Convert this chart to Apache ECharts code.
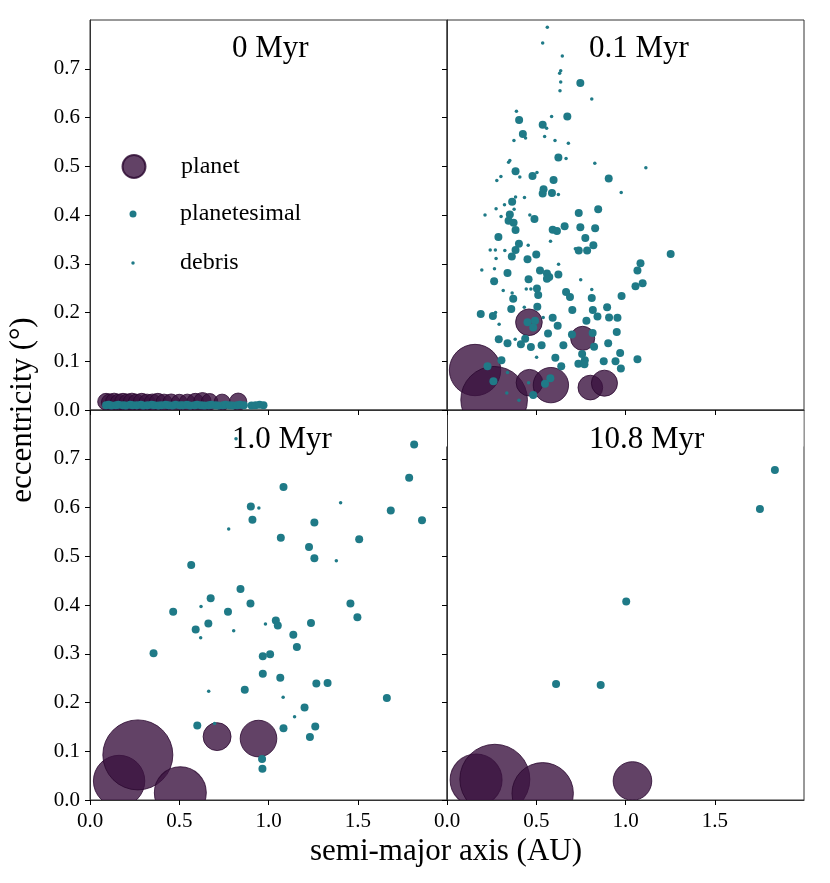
<!DOCTYPE html>
<html>
<head>
<meta charset="utf-8">
<script src="https://cdn.jsdelivr.net/npm/echarts@6/dist/echarts.min.js"></script>
<style>
html,body{margin:0;padding:0;background:#fff;}
#chart{width:830px;height:883px;}
</style>
</head>
<body>
<div id="chart"></div>
<script>
// ---------- DATA ----------
const panelTitles = ['0 Myr', '0.1 Myr', '1.0 Myr', '10.8 Myr'];
const xTickValues = [0, 0.5, 1.0, 1.5];
const yTickValues = [0, 0.1, 0.2, 0.3, 0.4, 0.5, 0.6, 0.7];

// 0 Myr
const planetA_0 = [0.09,0.11,0.135,0.16,0.185,0.21,0.235,0.26,0.29,0.32,0.35,0.38,0.415,0.455,0.50,0.545,0.59,0.63,0.67,0.74,0.83];
const planetE_0 = [0.017,0.016,0.017,0.016,0.017,0.016,0.017,0.016,0.017,0.016,0.016,0.017,0.016,0.016,0.016,0.016,0.017,0.018,0.017,0.016,0.017];
const planetM_0 = [2.8,2.7,2.9,2.6,2.8,2.7,2.9,2.6,2.8,2.6,2.7,2.8,2.6,2.7,2.5,2.6,2.8,3.0,2.7,2.6,3.0];
const planetesimals_0 = [[0.09,0.010],[0.105,0.011],[0.12,0.009],[0.145,0.010],[0.16,0.011],[0.185,0.010],[0.2,0.009],[0.225,0.011],[0.24,0.010],[0.262,0.010],[0.285,0.011],[0.3,0.009],[0.322,0.010],[0.345,0.011],[0.36,0.010],[0.383,0.009],[0.4,0.010],[0.424,0.011],[0.44,0.010],[0.462,0.009],[0.48,0.011],[0.505,0.010],[0.52,0.010],[0.543,0.011],[0.56,0.009],[0.585,0.010],[0.6,0.011],[0.622,0.010],[0.64,0.009],[0.664,0.010],[0.68,0.011],[0.703,0.010],[0.72,0.009],[0.745,0.010],[0.76,0.011],[0.782,0.010],[0.8,0.009],[0.823,0.010],[0.84,0.011],[0.862,0.010],[0.905,0.009],[0.928,0.010],[0.95,0.011],[0.972,0.010]];
const debris_0 = [];

// 0.1 Myr
const planetA_01 = [0.157,0.264,0.459,0.462,0.582,0.760,0.803,0.882];
const planetE_01 = [0.082,0.021,0.180,0.056,0.051,0.147,0.046,0.055];
const planetM_01 = [26.4,44.4,7.1,7.1,12.5,5.8,6.1,6.8];
const planetesimals_01 = [[0.747,0.671],[0.404,0.595],[0.674,0.602],[0.536,0.585],[0.425,0.566],[0.624,0.518],[0.384,0.490],[0.479,0.480],[0.597,0.472],[0.906,0.475],[0.541,0.453],[0.536,0.444],[0.588,0.445],[0.365,0.427],[0.847,0.412],
[0.352,0.401],[0.345,0.388],[0.373,0.384],[0.490,0.392],[0.738,0.404],
[0.384,0.369],[0.592,0.370],[0.616,0.367],[0.659,0.377],[0.747,0.375],[0.830,0.373],
[0.288,0.355],[0.403,0.341],[0.384,0.328],[0.775,0.353],[0.820,0.338],[0.738,0.327],[0.785,0.327],
[0.500,0.319],[0.363,0.315],[0.451,0.309],[1.253,0.320],[1.084,0.301],[1.067,0.286],[1.096,0.260],[1.056,0.254],[0.978,0.234],
[0.521,0.286],[0.560,0.280],[0.573,0.273],[0.560,0.269],[0.624,0.278],[0.339,0.281],[0.264,0.264],[0.457,0.268],
[0.504,0.249],[0.511,0.236],[0.667,0.242],[0.689,0.232],[0.371,0.228],[0.811,0.230],
[0.506,0.212],[0.360,0.207],[0.702,0.205],[0.817,0.205],[0.897,0.211],
[0.189,0.197],[0.257,0.193],[0.592,0.189],[0.843,0.192],[0.908,0.190],[0.955,0.189],[0.781,0.183],[0.620,0.173],
[0.451,0.180],[0.493,0.183],[0.483,0.169],
[0.951,0.160],[0.566,0.157],[0.700,0.155],[0.816,0.158],
[0.438,0.146],[0.290,0.145],[0.339,0.137],[0.414,0.135],[0.530,0.133],[0.470,0.129],[0.652,0.133],[0.903,0.137],[0.824,0.130],
[0.970,0.117],[0.757,0.115],[0.607,0.107],[1.067,0.104],[0.772,0.102],[0.736,0.095],[0.770,0.094],[0.878,0.100],[0.944,0.100],[0.974,0.085],[0.640,0.090],
[0.305,0.102],[0.227,0.090],[0.260,0.059],[0.579,0.065],[0.549,0.054],[0.483,0.031]];
const debris_01 = [[0.562,0.785],[0.536,0.753],[0.646,0.726],[0.637,0.696],[0.631,0.691],[0.637,0.673],[0.633,0.655],[0.811,0.638],[0.389,0.613],[0.586,0.602],[0.558,0.578],[0.440,0.558],[0.375,0.553],[0.547,0.561],[0.605,0.553],[0.680,0.547],[0.667,0.516],[0.352,0.512],[0.345,0.508],[0.828,0.506],[1.114,0.497],[0.302,0.479],[0.279,0.471],[0.408,0.478],[0.504,0.487],[0.976,0.446],[0.384,0.437],[0.434,0.436],[0.624,0.442],[0.322,0.421],[0.376,0.412],[0.275,0.413],
[0.213,0.400],[0.303,0.397],[0.464,0.400],[0.580,0.346],[0.455,0.338],[0.242,0.328],[0.271,0.328],[0.324,0.327],[0.275,0.311],[0.195,0.287],[0.266,0.290],[0.625,0.299],[0.749,0.267],[0.315,0.245],[0.365,0.240],[0.444,0.248],[0.470,0.248],[0.811,0.247],[0.433,0.211],[0.272,0.200],[0.539,0.190],[0.292,0.176],[0.382,0.145],[0.719,0.331],[0.502,0.108],[0.339,0.077],[0.457,0.056],[0.335,0.035],[0.403,0.020]];

// 1.0 Myr
const planetA_1 = [0.163,0.268,0.506,0.712,0.944];
const planetE_1 = [0.039,0.0925,0.015,0.130,0.126];
const planetM_1 = [26.4,49.0,27.0,7.8,13.4];
const planetesimals_1 = [[1.816,0.729],[1.788,0.661],[1.084,0.642],[0.901,0.602],[0.910,0.575],[1.685,0.594],[1.860,0.574],[1.257,0.569],[1.069,0.538],[1.508,0.535],[1.227,0.519],[1.257,0.496],[0.567,0.482],[0.843,0.433],[0.676,0.414],[0.899,0.403],[1.459,0.403],[0.466,0.386],[0.773,0.386],[0.663,0.362],[1.041,0.368],[1.052,0.358],[1.238,0.363],[1.498,0.375],[0.592,0.350],[1.139,0.339],[1.159,0.314],[0.356,0.301],[0.968,0.295],[1.009,0.299],[0.968,0.259],[1.066,0.251],[1.268,0.239],[1.331,0.240],[1.663,0.209],[0.867,0.226],[1.202,0.190],[0.601,0.153],[1.084,0.147],[1.262,0.151],[1.232,0.129],[0.964,0.084],[0.966,0.064]];
const debris_1 = [[0.818,0.741],[0.946,0.599],[1.404,0.610],[0.777,0.556],[1.380,0.491],[0.622,0.397],[0.983,0.361],[0.805,0.347],[0.620,0.333],[0.665,0.223],[1.082,0.211],[1.146,0.171],[0.698,0.157]];

// 10.8 Myr
const planetA_108 = [0.163,0.268,0.536,1.039];
const planetE_108 = [0.041,0.0425,0.0137,0.039];
const planetM_108 = [27.0,49.0,37.7,14.9];
const planetesimals_108 = [[1.837,0.677],[1.753,0.597],[1.004,0.407],[0.611,0.238],[0.861,0.236]];
const debris_108 = [];

// ---------- CHART ----------
const FONT = 'Liberation Serif';
const PLANET_COLOR = '#3b1340';
const TEAL = '#1f7a87';

const panels = [
  {pa: planetA_0, pe: planetE_0, pm: planetM_0, pts: planetesimals_0, deb: debris_0},
  {pa: planetA_01, pe: planetE_01, pm: planetM_01, pts: planetesimals_01, deb: debris_01},
  {pa: planetA_1, pe: planetE_1, pm: planetM_1, pts: planetesimals_1, deb: debris_1},
  {pa: planetA_108, pe: planetE_108, pm: planetM_108, pts: planetesimals_108, deb: debris_108}
];

const gridPos = [
  {left: 90, top: 20, width: 357, height: 390},
  {left: 447, top: 20, width: 357, height: 390},
  {left: 90, top: 410, width: 357, height: 390},
  {left: 447, top: 410, width: 357, height: 390}
];
const showXLab = [false, false, true, true];
const showYLab = [true, false, true, false];

const grid = gridPos.map(g => Object.assign({show: true, borderColor: '#333', borderWidth: 1, backgroundColor: 'transparent'}, g));

const tickFont = {fontFamily: FONT, fontSize: 21, color: '#000'};

const xAxis = gridPos.map((g, i) => ({
  type: 'value', gridIndex: i, min: 0, max: 2, interval: 0.5, z: 10,
  axisLine: {show: true, onZero: false, lineStyle: {color: '#333', width: 1}},
  axisTick: {show: true, inside: false, length: 5, lineStyle: {color: '#000', width: 1}, customValues: xTickValues},
  axisLabel: Object.assign({show: showXLab[i], margin: 11, customValues: xTickValues,
    formatter: v => (v >= 2 ? '' : v.toFixed(1))}, tickFont),
  splitLine: {show: false}
}));
const yAxis = gridPos.map((g, i) => ({
  type: 'value', gridIndex: i, min: 0, max: 0.8, interval: 0.1, z: 10,
  axisLine: {show: true, onZero: false, lineStyle: {color: '#333', width: 1}},
  axisTick: {show: true, inside: false, length: 5, lineStyle: {color: '#000', width: 1}, customValues: yTickValues},
  axisLabel: Object.assign({show: showYLab[i], margin: 10, customValues: yTickValues,
    formatter: v => (v >= 0.79 ? '' : v.toFixed(1))}, tickFont),
  splitLine: {show: false}
}));

const series = [];
panels.forEach((p, i) => {
  const z = i < 2 ? 2 : 4;
  series.push({
    name: 'planet', type: 'scatter', xAxisIndex: i, yAxisIndex: i, z: z,
    symbol: 'circle',
    data: p.pa.map((a, k) => [a, p.pe[k], p.pm[k]]),
    symbolSize: v => 10 * Math.sqrt(v[2]),
    itemStyle: {color: PLANET_COLOR, opacity: 0.8, borderColor: '#2a0830', borderWidth: 1},
    emphasis: {disabled: true}, silent: true
  });
  series.push({
    name: 'planetesimal', type: 'scatter', xAxisIndex: i, yAxisIndex: i, z: z,
    symbol: 'circle', symbolSize: 8,
    data: p.pts,
    itemStyle: {color: TEAL, opacity: 1},
    emphasis: {disabled: true}, silent: true
  });
  series.push({
    name: 'debris', type: 'scatter', xAxisIndex: i, yAxisIndex: i, z: z,
    symbol: 'circle', symbolSize: 3.5,
    data: p.deb,
    itemStyle: {color: TEAL, opacity: 1},
    emphasis: {disabled: true}, silent: true
  });
});

// legend: marker centred at x=133, text starting at x=180
const legendItems = [
  {name: 'planet', size: 23, cy: 166},
  {name: 'planetesimal', size: 7, cy: 214},
  {name: 'debris', size: 3.5, cy: 263}
];
const legend = legendItems.map(it => ({
  data: [it.name], orient: 'vertical', padding: 0, selectedMode: false,
  left: 133 - it.size / 2, top: it.cy - 12,
  itemWidth: it.size, itemHeight: it.size, z: 6,
  textStyle: {fontFamily: FONT, fontSize: 24, color: '#000', lineHeight: 24,
    padding: [0, 0, 0, 180 - (133 + it.size / 2) - 5]}
}));

const titlePos = [[232, 33], [589, 33], [232, 424], [589, 424]];
const title = panelTitles.map((t, i) => ({
  text: t, left: titlePos[i][0], top: titlePos[i][1], padding: 0, z: 8,
  textStyle: {fontFamily: FONT, fontSize: 31, fontWeight: 'normal', color: '#000', lineHeight: 31}
}));

const graphic = [
  // clip overflow of upper panels' markers into lower panels
  {type: 'rect', shape: {x: 91, y: 410.6, width: 712.4, height: 36}, style: {fill: '#fff'}, z: 3, silent: true},
  // clip overflow below the lower panels
  {type: 'rect', shape: {x: 0, y: 800.6, width: 830, height: 83}, style: {fill: '#fff'}, z: 5, silent: true},
  {type: 'text', x: 446, y: 852, z: 10, silent: true,
    style: {text: 'semi-major axis (AU)', fontFamily: FONT, fontSize: 31, fill: '#000', textAlign: 'center', textVerticalAlign: 'middle'}},
  {type: 'text', x: 23, y: 410, rotation: Math.PI / 2, z: 10, silent: true,
    style: {text: 'eccentricity (°)', fontFamily: FONT, fontSize: 31, fill: '#000', textAlign: 'center', textVerticalAlign: 'middle'}}
];

const chart = echarts.init(document.getElementById('chart'), null, {renderer: 'canvas'});
chart.setOption({
  animation: false,
  backgroundColor: '#fff',
  grid, xAxis, yAxis, series, legend, title, graphic
});
</script>
</body>
</html>
